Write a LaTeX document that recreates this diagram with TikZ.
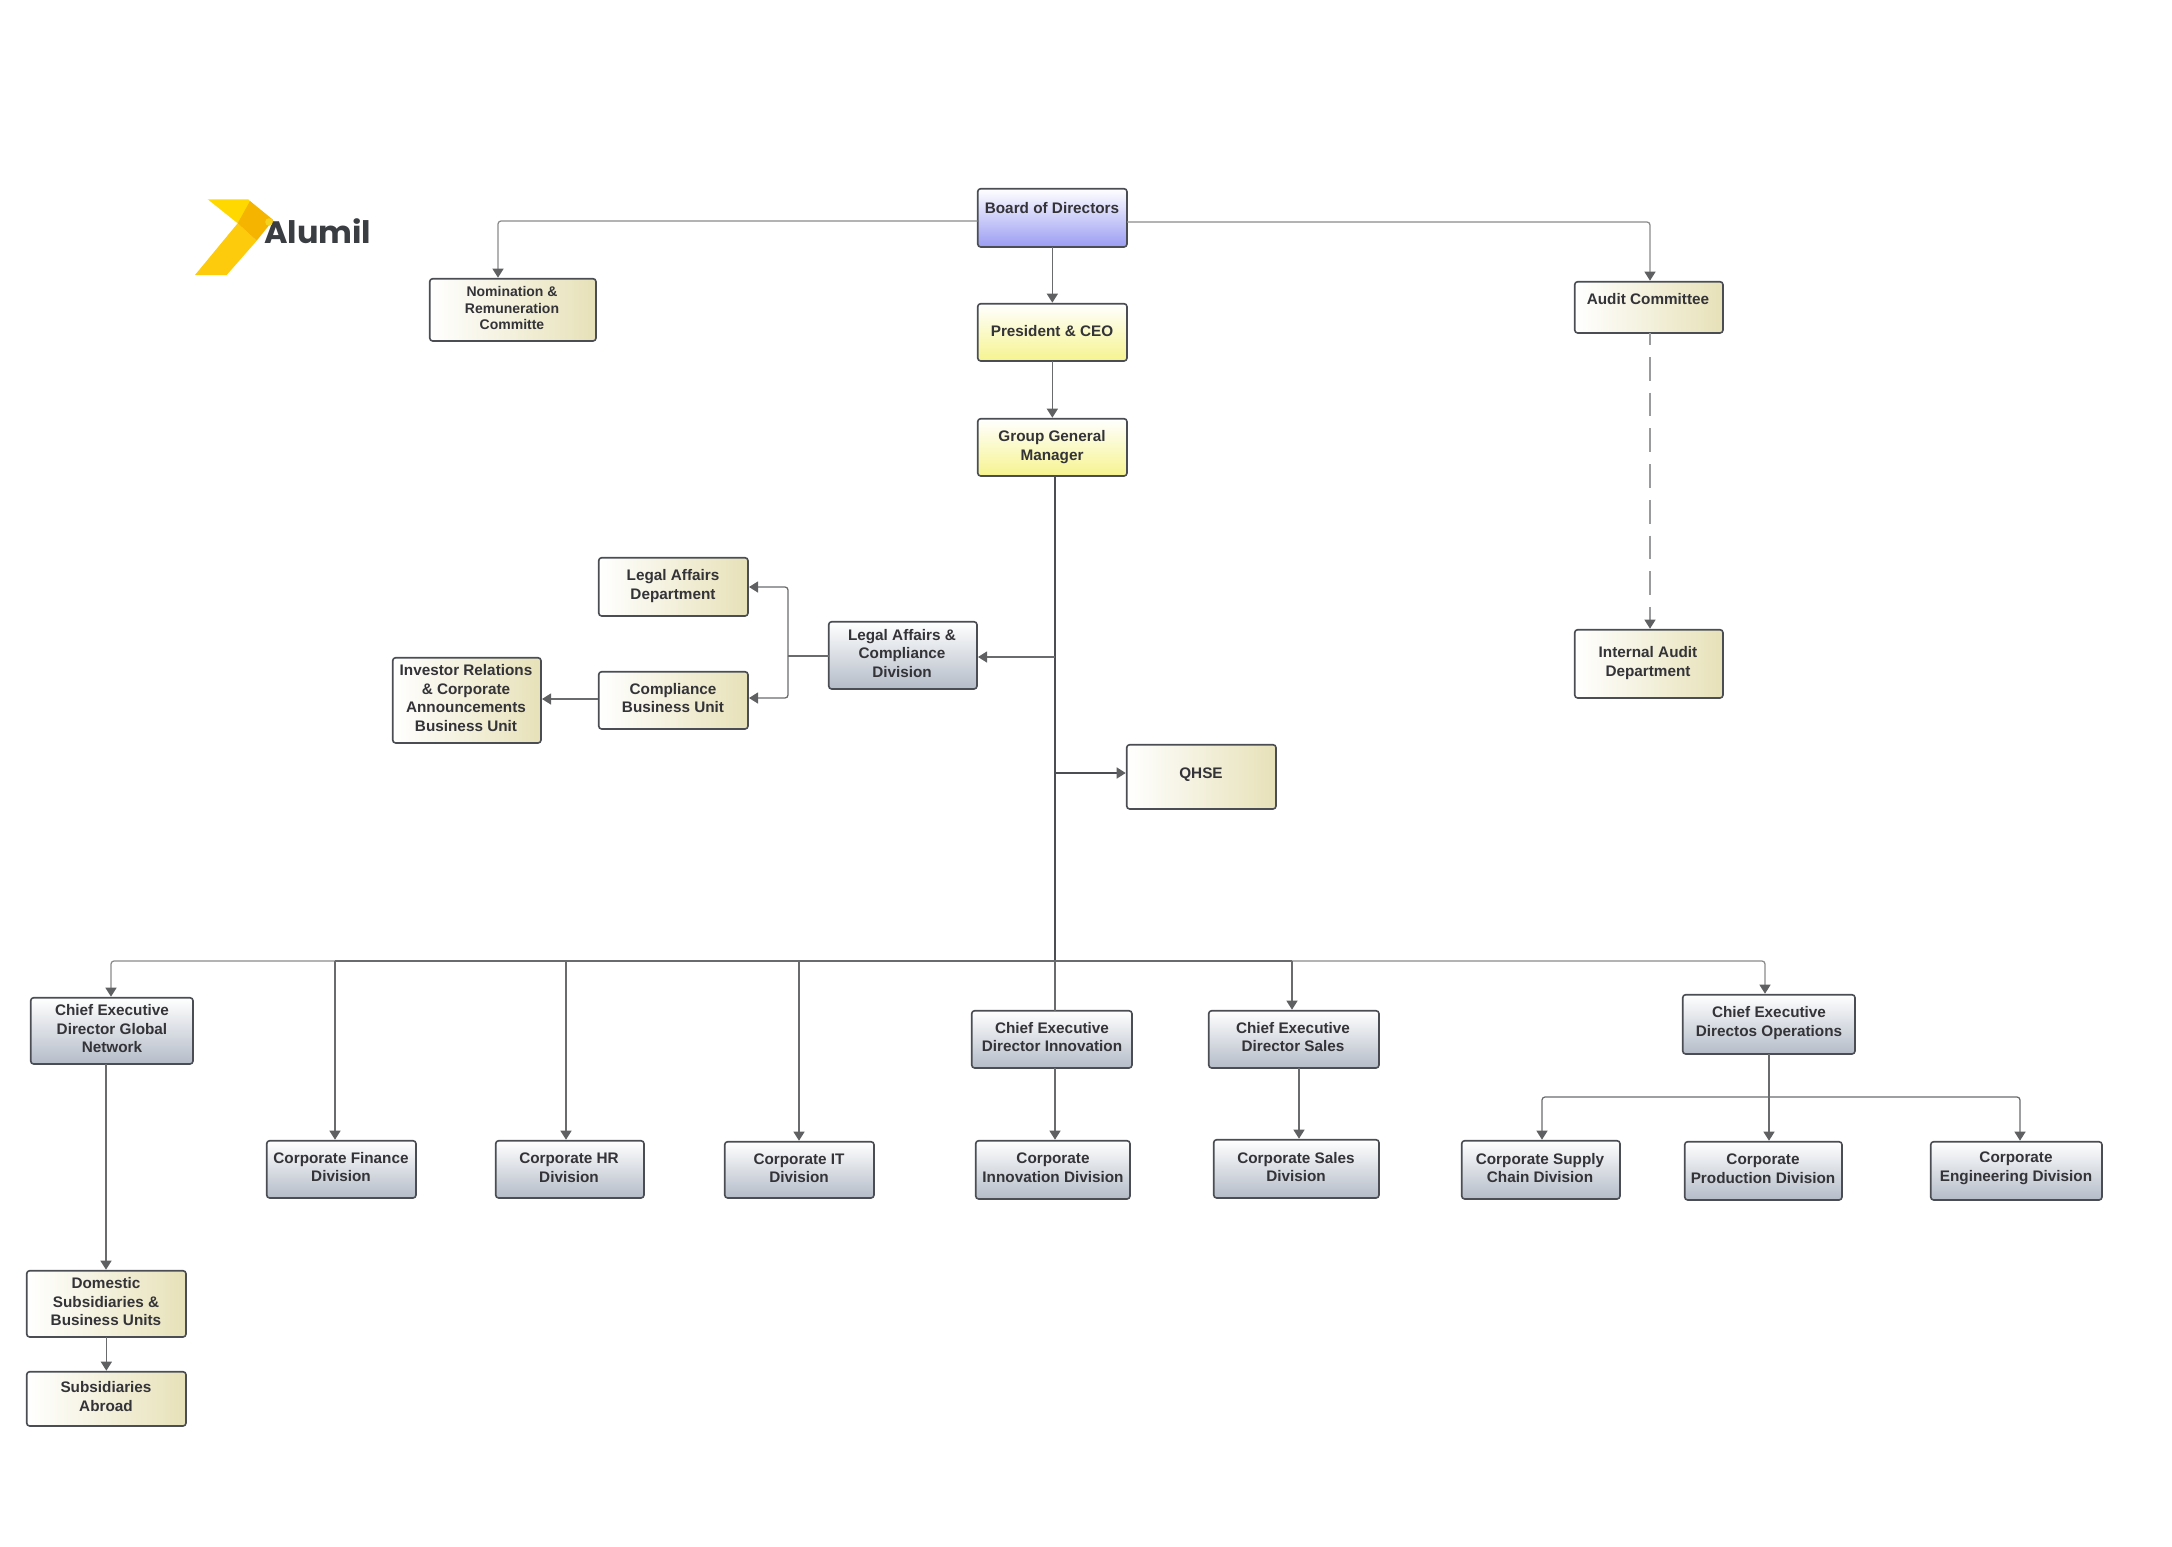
\documentclass[tikz,border=0pt]{standalone}
\usepackage{fontspec}
\setmainfont{Liberation Sans}
\newfontfamily\logofont{Poppins}[UprightFont=* Bold]
\usetikzlibrary{arrows.meta,calc}
\definecolor{ln}{HTML}{4A4E54}
\definecolor{cn}{HTML}{6A6B6D}
\definecolor{cl}{HTML}{8A8B8C}
\definecolor{cd}{HTML}{9A9B9C}
\definecolor{tip}{HTML}{5F6062}
\definecolor{tx}{HTML}{333338}
\definecolor{grayb}{HTML}{B4BCC8}
\definecolor{graym}{HTML}{E2E5EA}
\definecolor{yelb}{HTML}{F6F48E}
\definecolor{yelm}{HTML}{FDFCD8}
\definecolor{blub}{HTML}{9A9CF2}
\definecolor{blum}{HTML}{D6D7FA}
\definecolor{beib}{HTML}{E7E1B8}
\definecolor{beim}{HTML}{FBF9F0}
\definecolor{logoy}{HTML}{F5D21E}
\newlength{\logowd}
\tikzset{
  bx/.style={draw=ln,line width=1.6pt,rounded corners=3pt,inner sep=0pt,outer sep=0pt,anchor=north west},
  grayf/.style={bx,top color=white,middle color=graym,bottom color=grayb},
  yel/.style={bx,top color=white,middle color=yelm,bottom color=yelb},
  blu/.style={bx,top color=white,middle color=blum,bottom color=blub},
  bei/.style={bx,left color=white,middle color=beim,right color=beib},
  txt/.style={align=center,inner sep=0pt,text=tx,font=\fontsize{15.3}{18.5}\selectfont\bfseries},
  headtip/.style={-{Triangle[length=9pt,width=11pt,color=tip]},shorten >=1pt},
  conn/.style={draw=cn,line width=1.25pt,rounded corners=3pt,headtip},
  plain/.style={draw=cn,line width=1.25pt,rounded corners=3pt},
}
\newcommand{\orgbox}[9]{%
  \node[#6,minimum width=#4pt-#2pt-0.7pt,minimum height=#5pt-#3pt-0.7pt] (#1) at (#2pt+0.7pt,-#3pt-0.7pt) {};
  \node[txt] (#1T) at (#8pt,-#9pt) {#7};}
\begin{document}
\begin{tikzpicture}[x=1pt,y=-1pt]
\useasboundingbox (0,0) rectangle (2172,1547);
% logo
\fill[color={rgb,255:red,255;green,216;blue,0}] (207.7,199.3) -- (248.3,199.3) -- (253.3,205) -- (237.7,223.3) -- cycle;
\fill[color={rgb,255:red,253;green,203;blue,11}] (237.7,223.3) -- (256.7,240.7) -- (226.7,275) -- (195,275) -- cycle;
\fill[color={rgb,255:red,244;green,180;blue,0}] (250,201) -- (273.3,220) -- (256.7,240.7) -- (237.7,223.3) -- cycle;
\node[inner sep=0pt,anchor=base west,text={rgb,255:red,58;green,61;blue,66},font=\logofont\fontsize{31}{31}\selectfont,xscale=1.03] (logo) at (264,243.5) {Alumil};
\settowidth{\logowd}{\logofont\fontsize{31}{31}\selectfont Alum}
\fill[logoy] ($(logo.base west)+(1.03\logowd+5pt,21.5pt)$) circle[radius=3.8pt];
% boxes
\orgbox{board}{977}{188}{1127}{247}{blu}{Board of Directors}{1052}{208}
\orgbox{pres}{977}{303}{1127}{361}{yel}{President \& CEO}{1052}{331}
\orgbox{gm}{977}{418}{1127}{476}{yel}{Group General\\Manager}{1052}{447}
\begin{scope}[txt/.append style={font=\fontsize{14}{16.7}\selectfont\bfseries}]
\orgbox{nom}{429}{278}{596}{341}{bei}{Nomination \&\\Remuneration\\Committe}{512}{308}
\end{scope}
\orgbox{audit}{1574}{281}{1723}{333}{bei}{Audit Committee}{1648}{299}
\orgbox{ia}{1574}{629}{1723}{698}{bei}{Internal Audit\\Department}{1648}{663}
\orgbox{ldept}{598}{557}{748}{616}{bei}{Legal Affairs\\Department}{673}{586}
\orgbox{ldiv}{828}{621}{977}{689}{grayf}{Legal Affairs \&\\Compliance\\Division}{902}{653.5}
\orgbox{comp}{598}{671}{748}{729}{bei}{Compliance\\Business Unit}{673}{698}
\orgbox{inv}{392}{657}{541}{743}{bei}{Investor Relations\\\& Corporate\\Announcements\\Business Unit}{466}{698}
\orgbox{qhse}{1126}{744}{1276}{809}{bei}{QHSE}{1201}{775}
\orgbox{glob}{30}{997}{193}{1064}{grayf}{Chief Executive\\Director Global\\Network}{112}{1029}
\orgbox{fin}{266}{1140}{416}{1198}{grayf}{Corporate Finance\\Division}{341}{1167}
\orgbox{hr}{495}{1140}{644}{1198}{grayf}{Corporate HR\\Division}{569}{1167.5}
\orgbox{it}{724}{1141}{874}{1198}{grayf}{Corporate IT\\Division}{799}{1168}
\orgbox{dom}{26}{1270}{186}{1337}{bei}{Domestic\\Subsidiaries \&\\Business Units}{106}{1302}
\orgbox{abr}{26}{1371}{186}{1426}{bei}{Subsidiaries\\Abroad}{106}{1396.5}
\orgbox{cinn}{971}{1010}{1132}{1068}{grayf}{Chief Executive\\Director Innovation}{1052}{1037}
\orgbox{dinn}{975}{1140}{1130}{1199}{grayf}{Corporate\\Innovation Division}{1053}{1167.5}
\orgbox{csal}{1208}{1010}{1379}{1068}{grayf}{Chief Executive\\Director Sales}{1293}{1037}
\orgbox{dsal}{1213}{1139}{1379}{1198}{grayf}{Corporate Sales\\Division}{1296}{1167}
\orgbox{cops}{1682}{994}{1855}{1054}{grayf}{Chief Executive\\Directos Operations}{1769}{1023}
\orgbox{sup}{1461}{1140}{1620}{1199}{grayf}{Corporate Supply\\Chain Division}{1540}{1168}
\orgbox{prod}{1684}{1141}{1842}{1200}{grayf}{Corporate\\Production Division}{1763}{1168.5}
\orgbox{eng}{1930}{1141}{2102}{1200}{grayf}{Corporate\\Engineering Division}{2016}{1168.5}
% connectors
\coordinate (tl) at (498,221);
\coordinate (tr) at (1650,222);
\draw[conn,draw=cl] (tl -| board.west) -- (tl) -- (tl |- nom.north);
\draw[conn,draw=cl] (tr -| board.east) -- (tr) -- (tr |- audit.north);
\draw[conn,draw=cd,rounded corners=0pt,dash pattern=on 23.7pt off 12pt,dash phase=11.7pt] (tr |- audit.south) -- (tr |- ia.north);
\draw[conn] (board.south) -- (pres.north);
\draw[conn] (pres.south) -- (gm.north);
\coordinate (trunk) at (1055,961);
\draw[plain,draw=ln,line width=1.8pt] (trunk |- gm.south) -- (trunk);
\coordinate (lj) at (1055,657);
\draw[conn] (lj) -- (lj -| ldiv.east);
\coordinate (qj) at (1055,773);
\draw[conn,draw=ln,line width=1.5pt] (qj) -- (qj -| qhse.west);
\coordinate (lb) at (788,656);
\coordinate (lu) at (788,587);
\coordinate (ld) at (788,698);
\draw[plain] (lb -| ldiv.west) -- (lb);
\draw[conn] (lb) -- (lu) -- (lu -| ldept.east);
\draw[conn] (lb) -- (ld) -- (ld -| comp.east);
\coordinate (ij) at (598,699);
\draw[conn] (ij) -- (ij -| inv.east);
% bus
\coordinate (bg) at (111,961);
\coordinate (bf) at (335,961);
\coordinate (bh) at (566,961);
\coordinate (bi) at (799,961);
\coordinate (bs) at (1292,961);
\coordinate (bo) at (1765,961);
\draw[conn,draw=cl] (bf) -- (bg) -- (bg |- glob.north);
\draw[conn,draw=cl] (bs) -- (bo) -- (bo |- cops.north);
\draw[plain,line width=1.5pt] (bf) -- (trunk) -- (bs);
\draw[conn] (bf) -- (bf |- fin.north);
\draw[conn] (bh) -- (bh |- hr.north);
\draw[conn] (bi) -- (bi |- it.north);
\draw[conn] (bs) -- (bs |- csal.north);
\draw[plain] (trunk) -- (trunk |- cinn.north);
\draw[conn] (trunk |- cinn.south) -- (trunk |- dinn.north);
\coordinate (sx) at (1299,1068);
\draw[conn] (sx) -- (sx |- dsal.north);
\coordinate (dx) at (106,1064);
\draw[conn] (dx) -- (dx |- dom.north);
\draw[conn] (dom.south) -- (abr.north);
\coordinate (ob) at (1769,1097);
\coordinate (os) at (1542,1097);
\coordinate (oe) at (2020,1097);
\draw[conn] (ob |- cops.south) -- (ob |- prod.north);
\draw[conn] (ob) -- (os) -- (os |- sup.north);
\draw[conn] (ob) -- (oe) -- (oe |- eng.north);
\end{tikzpicture}
\end{document}
